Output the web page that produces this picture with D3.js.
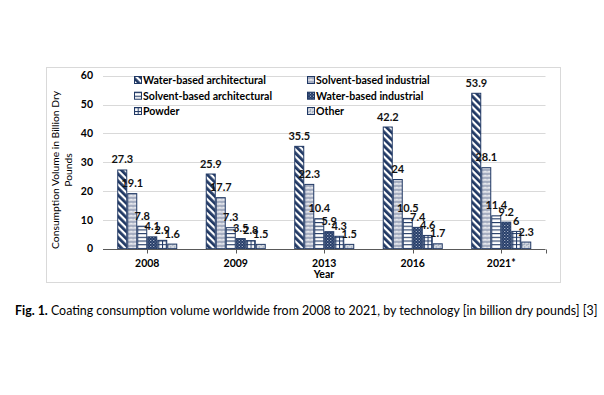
<!DOCTYPE html>
<html>
<head>
<meta charset="utf-8">
<script src="https://cdn.jsdelivr.net/npm/d3@7"></script>
<style>
  body { margin: 0; background: #fff; }
  svg text { font-family: Lato, "Open Sans", sans-serif; }
</style>
</head>
<body>
<div id="chart"></div>
<script>
// data
var years = ["2008", "2009", "2013", "2016", "2021*"];
var seriesNames = ["Water-based architectural", "Solvent-based industrial", "Solvent-based architectural",
                   "Water-based industrial", "Powder", "Other"];
var waterArch   = [27.3, 25.9, 35.5, 42.2, 53.9];
var solventInd  = [19.1, 17.7, 22.3, 24, 28.1];
var solventArch = [7.8, 7.3, 10.4, 10.5, 11.4];
var waterInd    = [4.1, 3.5, 5.9, 7.4, 9.2];
var powder      = [2.9, 2.8, 4.3, 4.6, 6];
var other       = [1.6, 1.5, 1.5, 1.7, 2.3];
var yTicks = [0, 10, 20, 30, 40, 50, 60];

var allSeries = [waterArch, solventInd, solventArch, waterInd, powder, other];
var navy = "#203864";

var width = 604, height = 395;
var svg = d3.select("#chart").append("svg")
   .attr("width", width)
   .attr("height", height);

var defs = svg.append("defs");

// fill patterns, one per series
function pat(id, w, h, rot) {
   var p = defs.append("pattern")
      .attr("id", id)
      .attr("patternUnits", "userSpaceOnUse")
      .attr("width", w)
      .attr("height", h);
   if (rot) p.attr("patternTransform", "rotate(" + rot + ")");
   p.append("rect").attr("width", w).attr("height", h).attr("fill", "#fff");
   return p;
}
// wide downward diagonal
pat("p0", 5, 10, -45).append("rect").attr("width", 2.8).attr("height", 10).attr("fill", navy);
// wave
pat("p1", 4, 4).append("path")
   .attr("d", "M0,3.5 L1,0.5 L2,3.5 L3,0.5 L4,3.5")
   .attr("fill", "none").attr("stroke", navy).attr("stroke-width", 0.55).attr("opacity", 0.8);
// horizontal lines
pat("p2", 4, 3.7).append("rect").attr("y", 0).attr("width", 4).attr("height", 1.1).attr("fill", navy);
// dotted grid (dark)
var p3 = pat("p3", 3, 3);
p3.append("rect").attr("width", 3).attr("height", 3).attr("fill", navy);
p3.append("rect").attr("x", 0).attr("y", 0).attr("width", 1).attr("height", 1).attr("fill", "#c9d0e0");
p3.append("rect").attr("x", 1.5).attr("y", 1.5).attr("width", 1).attr("height", 1).attr("fill", "#9aa6c2");
// large grid
var p4 = pat("p4", 3.7, 3.7);
p4.append("rect").attr("width", 3.7).attr("height", 1).attr("fill", navy);
p4.append("rect").attr("width", 1).attr("height", 3.7).attr("fill", navy);
// divots
var p5 = pat("p5", 4, 4);
p5.append("path").attr("d", "M0.5,1 L2,1 M2.5,3 L4,3 M1,2.5 L1,3.5 M3,0 L3,1.5")
   .attr("stroke", navy).attr("stroke-width", 0.8);

// chart border
svg.append("rect")
   .attr("x", 46.5).attr("y", 67.5)
   .attr("width", 514).attr("height", 215)
   .attr("fill", "none")
   .attr("stroke", "#d9d9d9");

var x0 = d3.scaleBand().domain(years).range([103, 545.5]);
var x1 = d3.scaleBand().domain(d3.range(6)).range([-30, 30]);
var y = d3.scaleLinear().domain([0, 60]).range([248.7, 75.7]);

// gridlines
svg.append("g").selectAll("line")
   .data(yTicks.slice(1))
   .enter().append("line")
   .attr("x1", 103).attr("x2", 545.5)
   .attr("y1", function(d) { return Math.round(y(d)) + 0.5; })
   .attr("y2", function(d) { return Math.round(y(d)) + 0.5; })
   .attr("stroke", "#d9d9d9");

// y tick labels
svg.append("g").selectAll("text")
   .data(yTicks)
   .enter().append("text")
   .attr("x", 93)
   .attr("y", function(d) { return y(d) + 3.7; })
   .attr("text-anchor", "end")
   .attr("font-size", 10.5)
   .attr("font-weight", "bold")
   .text(function(d) { return d; });

// bars
var groups = svg.append("g").selectAll("g")
   .data(years)
   .enter().append("g")
   .attr("transform", function(d) { return "translate(" + (x0(d) + x0.bandwidth() / 2) + ",0)"; });

groups.selectAll("rect")
   .data(function(d, i) { return allSeries.map(function(s, k) { return { k: k, v: s[i] }; }); })
   .enter().append("rect")
   .attr("x", function(d) { return x1(d.k) + 0.5; })
   .attr("y", function(d) { return y(d.v); })
   .attr("width", x1.bandwidth() - 1)
   .attr("height", function(d) { return y(0) - y(d.v); })
   .attr("fill", function(d) { return "url(#p" + d.k + ")"; })
   .attr("stroke", navy)
   .attr("stroke-width", 1);

// data labels
groups.selectAll("text")
   .data(function(d, i) { return allSeries.map(function(s, k) { return { k: k, v: s[i] }; }); })
   .enter().append("text")
   .attr("x", function(d) { return x1(d.k) + x1.bandwidth() / 2; })
   .attr("y", function(d) { return y(d.v) - 6.5; })
   .attr("text-anchor", "middle")
   .attr("font-size", 11)
   .attr("font-weight", "bold")
   .attr("fill", "#111")
   .text(function(d) { return d.v; });

// x axis
var axisY = Math.round(y(0)) + 0.5;
svg.append("line")
   .attr("x1", 103).attr("x2", 545.5)
   .attr("y1", axisY).attr("y2", axisY)
   .attr("stroke", "#595959");

svg.append("g").selectAll("line")
   .data(years.map(function(d) { return x0(d) + x0.bandwidth() / 2; }).concat([545.5]))
   .enter().append("line")
   .attr("x1", function(d) { return Math.round(d) + 0.5; })
   .attr("x2", function(d) { return Math.round(d) + 0.5; })
   .attr("y1", axisY).attr("y2", axisY + 4)
   .attr("stroke", "#595959");

svg.append("g").selectAll("text")
   .data(years)
   .enter().append("text")
   .attr("x", function(d) { return x0(d) + x0.bandwidth() / 2; })
   .attr("y", 267)
   .attr("text-anchor", "middle")
   .attr("font-size", 10.5)
   .attr("font-weight", "bold")
   .text(function(d) { return d; });

svg.append("text")
   .attr("x", 324).attr("y", 277.5)
   .attr("text-anchor", "middle")
   .attr("font-size", 10.5)
   .attr("font-weight", "bold")
   .text("Year");

// y axis title
var yTitle = svg.append("text")
   .attr("transform", "translate(59,170) rotate(-90)")
   .attr("text-anchor", "middle")
   .attr("font-size", 10.3);
yTitle.append("tspan").attr("x", 0).attr("y", 0).text("Consumption Volume in Billion Dry");
yTitle.append("tspan").attr("x", 0).attr("y", 13).text("Pounds");

// legend
var legend = svg.append("g").selectAll("g")
   .data(seriesNames)
   .enter().append("g")
   .attr("transform", function(d, i) {
      return "translate(" + (i % 2 === 0 ? 134 : 307) + "," + [80, 95.7, 111][Math.floor(i / 2)] + ")";
   });

legend.append("rect")
   .attr("x", 0.5).attr("y", -3.5)
   .attr("width", 7).attr("height", 7)
   .attr("fill", function(d, i) { return "url(#p" + i + ")"; })
   .attr("stroke", navy)
   .attr("stroke-width", 1);

legend.append("text")
   .attr("x", 9)
   .attr("y", 3.8)
   .attr("font-size", 10.6)
   .attr("font-weight", "bold")
   .text(function(d) { return d; });

// caption
var cap = svg.append("text")
   .attr("x", 15).attr("y", 314.5)
   .attr("font-size", 12.4);
cap.append("tspan").attr("font-weight", "bold").text("Fig. 1.");
cap.append("tspan").text(" Coating consumption volume worldwide from 2008 to 2021, by technology [in billion dry pounds] [3]");
</script>
</body>
</html>
